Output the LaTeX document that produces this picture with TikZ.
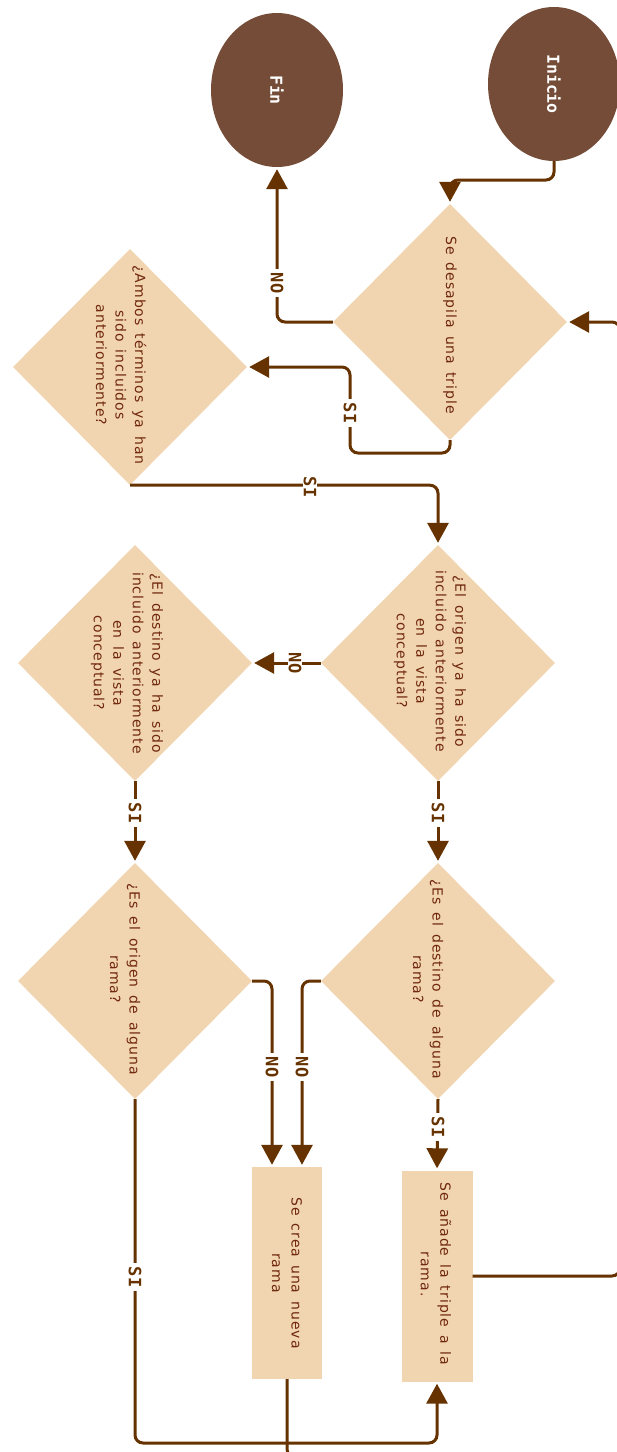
\documentclass[tikz,border=0pt]{standalone}
\usepackage{fontspec}
\usetikzlibrary{shapes.geometric,arrows.meta,calc}

% Fonts: spaced sans for the step texts, bold mono for the branch labels
\newfontfamily\qfont[LetterSpace=7]{DejaVu Sans}
\newfontfamily\lblfont{DejaVu Sans Mono}
\newcommand\stepfont{\qfont\fontsize{14}{19.5}\selectfont\spaceskip=8pt\relax}

\definecolor{capsule}{RGB}{116,76,55}
\definecolor{peach}{RGB}{241,212,176}
\definecolor{wire}{RGB}{102,51,0}
\definecolor{ink}{RGB}{112,40,14}

\begin{document}
\begin{tikzpicture}[x=1pt,y=-1pt,
  terminal/.style={ellipse, fill=capsule, minimum width=132pt, minimum height=154pt, inner sep=0pt},
  termtext/.style={rotate=-90, text=white, font=\lblfont\bfseries\fontsize{16.5}{19}\selectfont, inner sep=0pt},
  decision/.style={diamond, aspect=1, fill=peach, minimum width=234pt, minimum height=236pt, inner sep=0pt},
  action/.style={rectangle, fill=peach, minimum width=71pt, minimum height=211pt, inner sep=0pt},
  qtext/.style={rotate=-90, align=center, text=ink, font=\stepfont, inner sep=0pt},
  flow/.style={draw=wire, line width=3pt, rounded corners=8pt},
  tip/.style={-{Triangle[length=20pt,width=21pt]}, shorten >=2pt},
  lbl/.style={rotate=-90, fill=white, text=wire, font=\lblfont\bfseries\fontsize{17}{19}\selectfont, inner xsep=3.5pt, inner ysep=1pt}
]
\fill[white] (0,0) rectangle (617,1452);
\useasboundingbox (0,0) rectangle (617,1452);

% Start and end
\node[terminal] (fin) at (277,90) {};
\node[termtext] (fintext) at (fin) {Fin};
\node[terminal] (ini) at (554,84) {};
\node[termtext] (initext) at (ini) {Inicio};

% Decisions
\node[decision] (d1) at (450,322) {};
\node[qtext] (d1text) at (450,325) {Se desapila una triple};

\node[decision] (d2) at (130,367) {};
\node[qtext] (d2text) at (121,365) {¿Ambos términos ya han\\sido incluidos\\anteriormente?};

\node[decision] (d3) at (438,663) {};
\node[qtext] (d3text) at (430,661) {¿El origen ya ha sido\\incluido anteriormente\\en la vista\\conceptual?};

\node[decision] (d4) at (135,663) {};
\node[qtext] (d4text) at (127,663) {¿El destino ya ha sido\\incluido anteriormente\\en la vista\\conceptual?};

\node[decision] (d5) at (438,981) {};
\node[qtext] (d5text) at (428,979) {¿Es el destino de alguna\\rama?};

\node[decision] (d6) at (135,981) {};
\node[qtext] (d6text) at (125,979) {¿Es el origen de alguna\\rama?};

% Actions
\node[action, minimum width=70pt, minimum height=212pt] (b1) at (287,1273) {};
\node[qtext] (b1text) at (287,1273) {Se crea una nueva\\rama};
\node[action] (b2) at (437,1276) {};
\node[qtext] (b2text) at (436,1274) {Se añade la triple a la\\rama.};

% Connectors
\draw[flow,tip] (ini.south) |- (450,180) -- (d1.north);
\draw[flow,tip] (d1.west) -| (fin.south);
\draw[flow,tip] (d1.south) -- (450,453) -- (350,453) -- (350,367) -- (d2.east);
\draw[flow,tip] (d2.south) -| (d3.north);
\draw[flow,tip] (d3.west) -- (d4.east);
\draw[flow,tip] (d3.south) -- (d5.north);
\draw[flow,tip] (d4.south) -- (d6.north);
\draw[flow,tip] (d5.west) -| ([xshift=15pt]b1.north);
\draw[flow,tip] (d6.east) -| ([xshift=-15pt]b1.north);
\draw[flow,tip] (d5.south) -- (b2.north);
\draw[flow,tip] (d6.south) |- (437,1443) -- (b2.south);
\draw[flow,tip] (b2.east) -- (620,1276) -- (620,322) -- (d1.east);
\coordinate (loopend) at (340,1457);
\draw[flow] (b1.south) |- (loopend);

% Branch labels
\node[lbl] (no1) at (277,283) {NO};
\node[lbl] (si1) at (350,413) {SI};
\node[lbl] (si2) at (310,487) {SI};
\node[lbl] (no2) at (295,663) {NO};
\node[lbl] (si3) at (438,813) {SI};
\node[lbl] (si4) at (135,813) {SI};
\node[lbl] (no3) at (302,1067) {NO};
\node[lbl] (no4) at (272,1067) {NO};
\node[lbl] (si5) at (438,1127) {SI};
\node[lbl] (si6) at (135,1277) {SI};
\end{tikzpicture}
\end{document}
